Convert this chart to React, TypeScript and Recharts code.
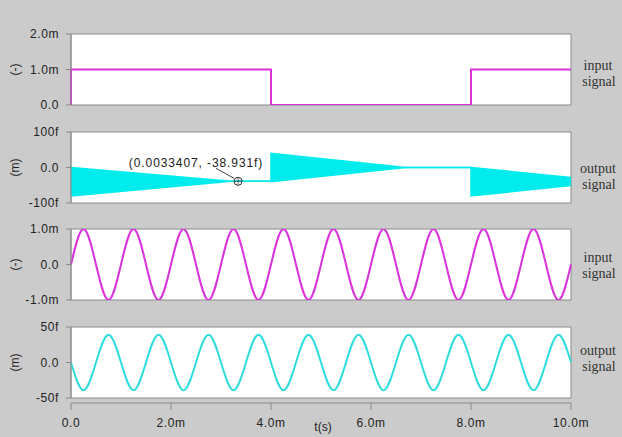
import React from "react";
import {
  ComposedChart,
  Line,
  Area,
  XAxis,
  YAxis,
  CartesianGrid,
  ReferenceDot,
} from "recharts";

// ---------- data (time in ms) ----------
const stepT = [0, 0, 4, 4, 8, 8, 10];
const stepV = [0, 1, 1, 0, 0, 1, 1]; // mV-ish units (m)

const envT = [0, 3.2, 4, 4, 6.7, 8, 8, 10];
const envLow = [-80, -39, -39, -40, 0, 0, -80, -51]; // f
const envHigh = [0, -39, -39, 40, 0, 0, 0, -28]; // f

const sineT = [
  0, 0.25, 0.5, 0.75, 1, 1.25, 1.5, 1.75, 2, 2.25, 2.5, 2.75, 3, 3.25, 3.5, 3.75, 4,
  4.25, 4.5, 4.75, 5, 5.25, 5.5, 5.75, 6, 6.25, 6.5, 6.75, 7, 7.25, 7.5, 7.75, 8,
  8.25, 8.5, 8.75, 9, 9.25, 9.5, 9.75, 10,
];
const sineIn = [
  0, 1, 0, -1, 0, 1, 0, -1, 0, 1, 0, -1, 0, 1, 0, -1, 0,
  1, 0, -1, 0, 1, 0, -1, 0, 1, 0, -1, 0, 1, 0, -1, 0,
  1, 0, -1, 0, 1, 0, -1, 0,
];
const sineOut = [
  0, -39, 0, 39, 0, -39, 0, 39, 0, -39, 0, 39, 0, -39, 0, 39, 0,
  -39, 0, 39, 0, -39, 0, 39, 0, -39, 0, 39, 0, -39, 0, 39, 0,
  -39, 0, 39, 0, -39, 0, 39, 0,
];

const annotT = 3.3407;
const annotV = -38.931;
const annotLabel = "(0.0033407, -38.931f)";

const xTicks = [0, 2, 4, 6, 8, 10];
const xTickLabels = ["0.0", "2.0m", "4.0m", "6.0m", "8.0m", "10.0m"];

const p1Ticks = [0, 1, 2];
const p1Labels = ["0.0", "1.0m", "2.0m"];
const p2Ticks = [-100, 0, 100];
const p2Labels = ["-100f", "0.0", "100f"];
const p3Ticks = [-1, 0, 1];
const p3Labels = ["-1.0m", "0.0", "1.0m"];
const p4Ticks = [-50, 0, 50];
const p4Labels = ["-50f", "0.0", "50f"];

// ---------- tables ----------
const stepData = stepT.map((t, i) => ({ t, v: stepV[i] }));
const envData = envT.map((t, i) => ({ t, range: [envLow[i], envHigh[i]] }));
const sineInData = sineT.map((t, i) => ({ t, v: sineIn[i] }));
const sineOutData = sineT.map((t, i) => ({ t, v: sineOut[i] }));
const xAxisData = xTicks.map((t) => ({ t }));

// ---------- styles ----------
const W = 622;
const H = 437;
const BG = "#cbcbcb";
const AXIS = "#8a8a8a";
const MAGENTA = "#dc32dc";
const CYAN_FILL = "#00ecec";
const CYAN_LINE = "#33dcdc";
const SANS = "'Liberation Sans', Arial, Helvetica, sans-serif";
const SERIF = "'Liberation Serif', 'Times New Roman', serif";
const tickStyle = { fontSize: 12, fill: "#222", fontFamily: SANS, letterSpacing: 0.6 };

const fmt = (ticks: number[], labels: string[]) => (v: number) => {
  const i = ticks.indexOf(v);
  return i >= 0 ? labels[i] : "";
};

const YLabel = (text: string) => (props: any) => {
  const vb = props.viewBox || {};
  const cx = 15;
  const cy = vb.y + vb.height / 2;
  return (
    <text
      x={cx}
      y={cy}
      transform={`rotate(-90 ${cx} ${cy})`}
      textAnchor="middle"
      dominantBaseline="central"
      fontSize={12}
      fontFamily={SANS}
      fill="#222"
    >
      {text}
    </text>
  );
};

const AnnotShape = (props: any) => {
  const { cx, cy } = props;
  return (
    <g>
      <text
        x={cx - 42}
        y={cy - 18}
        textAnchor="middle"
        dominantBaseline="central"
        fontSize={12}
        fontFamily={SANS}
        letterSpacing={0.9}
        fill="#222"
      >
        {annotLabel}
      </text>
      <line x1={cx - 22} y1={cy - 13} x2={cx - 4} y2={cy - 3} stroke="#444" strokeWidth={1} />
      <circle cx={cx} cy={cy} r={4} fill="none" stroke="#333" strokeWidth={1} />
      <line x1={cx - 4} y1={cy} x2={cx + 4} y2={cy} stroke="#333" strokeWidth={0.7} />
      <line x1={cx} y1={cy - 4} x2={cx} y2={cy + 4} stroke="#333" strokeWidth={0.7} />
    </g>
  );
};

type PanelProps = {
  top: number;
  bottom: number;
  data: any[];
  ticks: number[];
  labels: string[];
  unit: string;
  children: React.ReactNode;
};

const Panel = ({ top, bottom, data, ticks, labels, unit, children }: PanelProps) => (
  <div style={{ position: "absolute", left: 0, top: 0 }}>
    <ComposedChart
      width={W}
      height={H}
      data={data}
      margin={{ top, right: 51, bottom: H - bottom, left: 0 }}
    >
      <CartesianGrid
        fill="#ffffff"
        stroke={AXIS}
        horizontalValues={[ticks[0], ticks[ticks.length - 1]]}
        verticalValues={[0, 10]}
      />
      <XAxis type="number" dataKey="t" domain={[0, 10]} hide />
      <YAxis
        type="number"
        domain={[ticks[0], ticks[ticks.length - 1]]}
        ticks={ticks}
        tickFormatter={fmt(ticks, labels)}
        width={71}
        tickSize={5}
        tickMargin={7}
        interval={0}
        stroke={AXIS}
        tick={tickStyle}
        allowDataOverflow
        label={{ content: YLabel(unit) } as any}
      />
      {children}
    </ComposedChart>
  </div>
);

const rightLabels = [
  { a: "input", b: "signal", y: 65 },
  { a: "output", b: "signal", y: 168 },
  { a: "input", b: "signal", y: 257 },
  { a: "output", b: "signal", y: 350 },
];

export default function App() {
  return (
    <div
      style={{
        position: "absolute",
        left: 0,
        top: 0,
        width: W,
        height: H,
        background: BG,
        overflow: "hidden",
      }}
    >
      <Panel top={34} bottom={105} data={stepData} ticks={p1Ticks} labels={p1Labels} unit="(-)">
        <Line
          type="linear"
          dataKey="v"
          stroke={MAGENTA}
          strokeWidth={2}
          dot={false}
          isAnimationActive={false}
        />
      </Panel>

      <Panel top={132} bottom={203} data={envData} ticks={p2Ticks} labels={p2Labels} unit="(m)">
        <Area
          type="linear"
          dataKey="range"
          stroke={CYAN_FILL}
          strokeWidth={1.5}
          fill={CYAN_FILL}
          fillOpacity={1}
          dot={false}
          activeDot={false}
          isAnimationActive={false}
        />
        <ReferenceDot x={annotT} y={annotV} r={4} shape={AnnotShape} ifOverflow="visible" />
      </Panel>

      <Panel top={229} bottom={300} data={sineInData} ticks={p3Ticks} labels={p3Labels} unit="(-)">
        <Line
          type="natural"
          dataKey="v"
          stroke={MAGENTA}
          strokeWidth={2}
          dot={false}
          isAnimationActive={false}
        />
      </Panel>

      <Panel top={327} bottom={398} data={sineOutData} ticks={p4Ticks} labels={p4Labels} unit="(m)">
        <Line
          type="natural"
          dataKey="v"
          stroke={CYAN_LINE}
          strokeWidth={2}
          dot={false}
          isAnimationActive={false}
        />
      </Panel>

      <div style={{ position: "absolute", left: 0, top: 0 }}>
        <ComposedChart
          width={W}
          height={H}
          data={xAxisData}
          margin={{ top: 398, right: 51, bottom: 0, left: 71 }}
        >
          <XAxis
            type="number"
            dataKey="t"
            domain={[0, 10]}
            ticks={xTicks}
            interval={0}
            tickFormatter={fmt(xTicks, xTickLabels)}
            height={34}
            tickSize={7}
            tickMargin={8}
            stroke={AXIS}
            tick={tickStyle}
            label={{
              value: "t(s)",
              position: "insideBottom",
              offset: 6,
              dx: 2,
              fontSize: 12,
              fontFamily: SANS,
              fill: "#222",
            }}
          />
          <YAxis hide />
          <Line dataKey="t" stroke="none" dot={false} isAnimationActive={false} />
        </ComposedChart>
      </div>

      <svg
        width={W}
        height={H}
        style={{ position: "absolute", left: 0, top: 0, pointerEvents: "none" }}
      >
        {rightLabels.map((l, i) => (
          <g key={i} fontFamily={SERIF} fontSize={14} fill="#333" textAnchor="middle">
            <text x={598} y={l.y} dominantBaseline="central">
              {l.a}
            </text>
            <text x={599} y={l.y + 16} dominantBaseline="central">
              {l.b}
            </text>
          </g>
        ))}
      </svg>
    </div>
  );
}
